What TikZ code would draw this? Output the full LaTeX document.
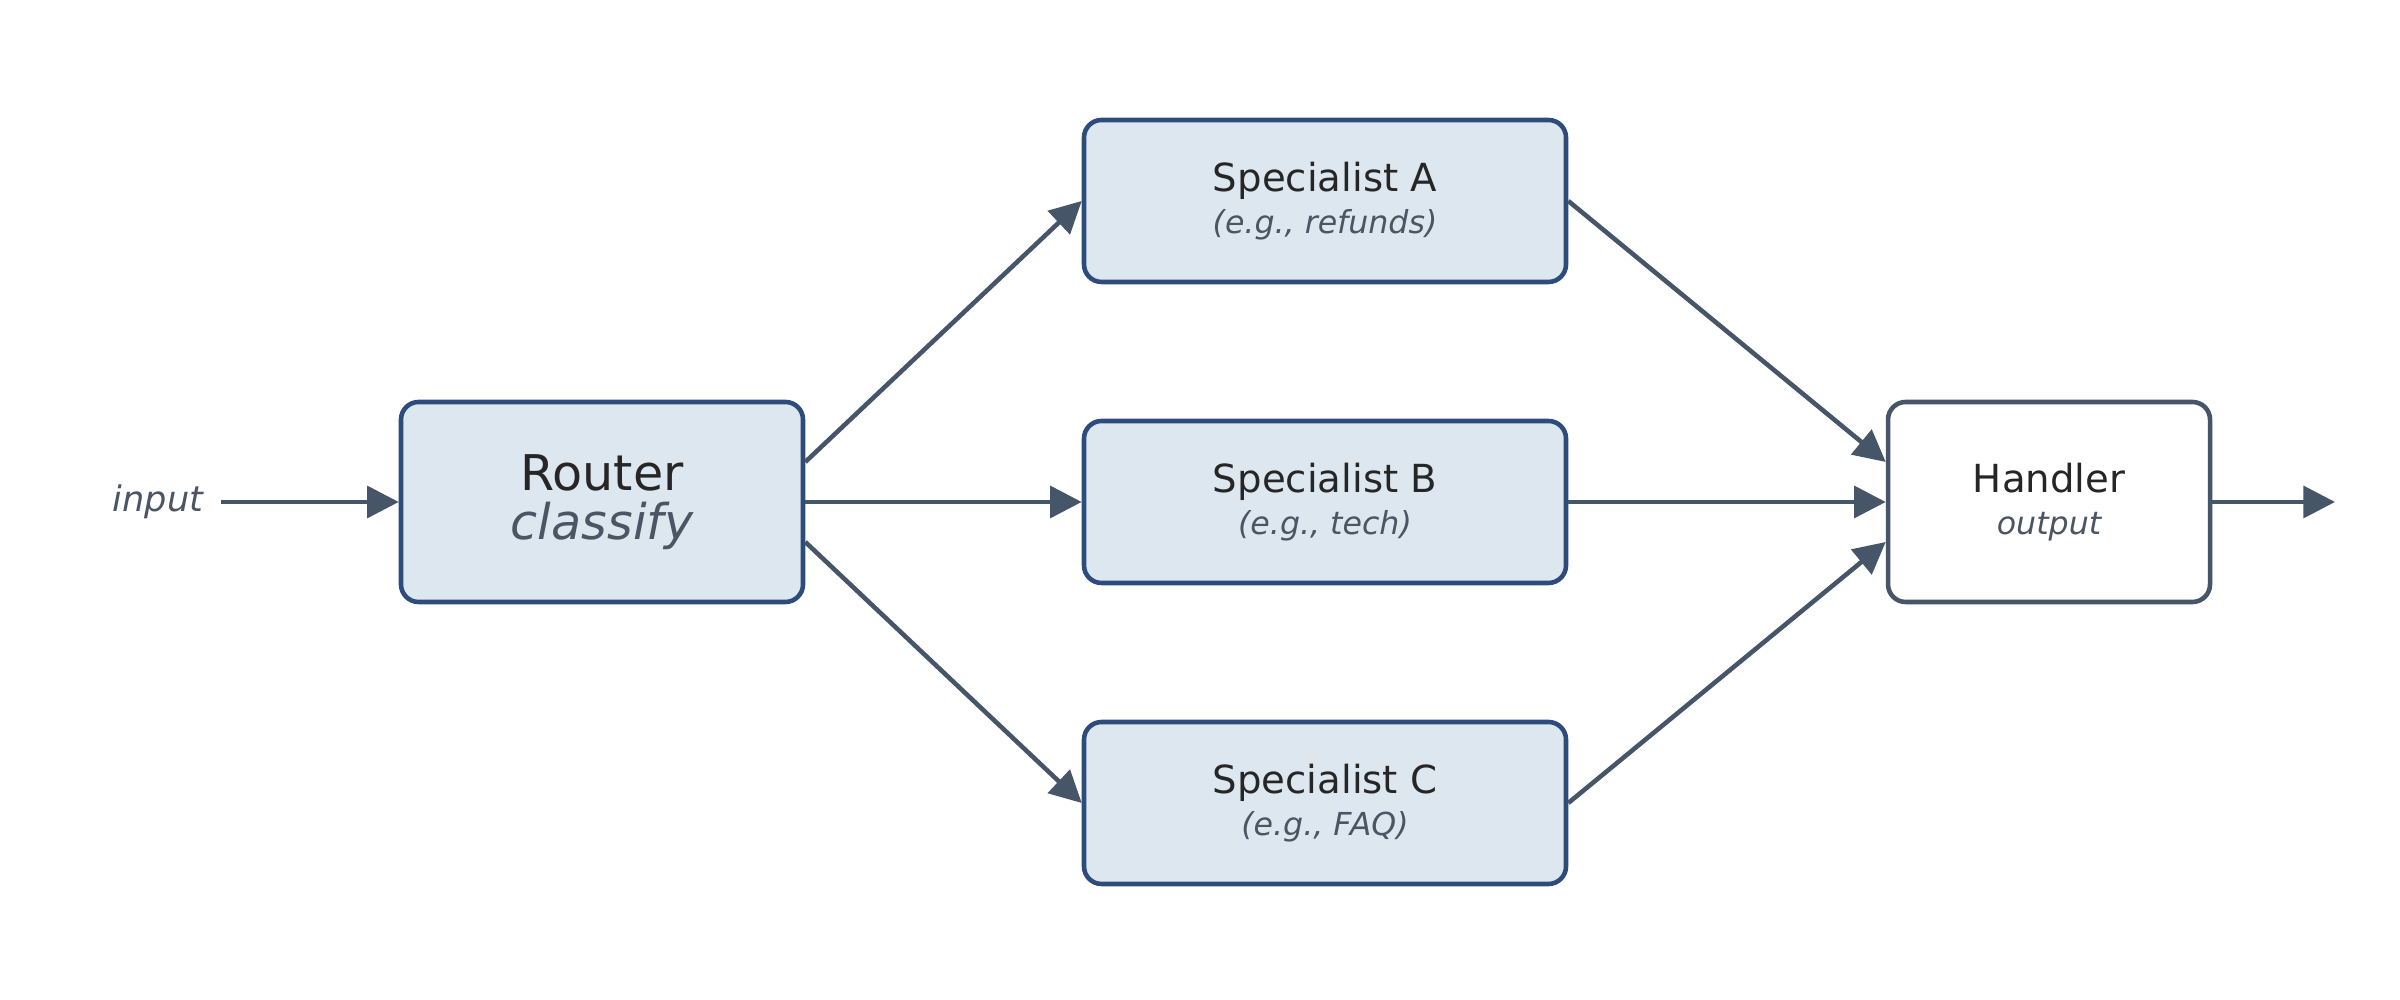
\documentclass[tikz,border=0pt]{standalone}
\usepackage{fontspec}
\setmainfont{DejaVu Sans}
\usetikzlibrary{arrows.meta,positioning,calc}
\definecolor{boxfill}{HTML}{DDE7F0}
\definecolor{boxline}{HTML}{2D4C7C}
\definecolor{wire}{HTML}{475569}
\definecolor{subtxt}{HTML}{4B5563}
\newcommand{\subline}[2][9]{{\color{subtxt}\itshape\fontsize{#1}{#1}\selectfont #2}}
\tikzset{
	box/.style={draw=boxline, fill=boxfill, line width=1.3pt, rounded corners=5pt,
		align=center, text=black!85},
	router/.style={box, minimum width=4.02cm, minimum height=2cm, font=\fontsize{14}{17}\selectfont},
	spec/.style={box, minimum width=4.82cm, minimum height=1.62cm, font=\fontsize{11}{15}\selectfont},
	sink/.style={box, draw=wire, fill=white, minimum width=3.22cm, minimum height=2cm,
		font=\fontsize{11}{15}\selectfont},
	ar/.style={draw=wire, line width=1.3pt, -{Triangle[length=9pt,width=9pt]}, fill=wire}
}
\begin{document}
\begin{tikzpicture}
   \useasboundingbox (0,0) rectangle (24,10);
   \node[router] (rt) at (6.02,4.98) {Router\\[-3pt]\subline[14]{classify}};
   \node[spec] (sa) at (13.25,7.99) {Specialist A\\[-3pt]\subline{(e.g., refunds)}};
   \node[spec] (sb) at (13.25,4.98) {Specialist B\\[-3pt]\subline{(e.g., tech)}};
   \node[spec] (sc) at (13.25,1.97) {Specialist C\\[-3pt]\subline{(e.g., FAQ)}};
   \node[sink] (hd) at (20.49,4.98) {Handler\\[-3pt]\subline{output}};
   \node (in) at (1.58,4.98) {\subline[10]{input}};
   \coordinate (instart) at (2.21,4.98);
   \coordinate (outend) at (23.35,4.98);
   % wires
   \draw[ar] (instart) -- (rt.west);
   \draw[ar] ($(rt.east)+(0,0.4)$) -- (sa.west);
   \draw[ar] (rt.east) -- (sb.west);
   \draw[ar] ($(rt.east)+(0,-0.4)$) -- (sc.west);
   \draw[ar] (sa.east) -- ($(hd.west)+(0,0.4)$);
   \draw[ar] (sb.east) -- (hd.west);
   \draw[ar] (sc.east) -- ($(hd.west)+(0,-0.4)$);
   \draw[ar] (hd.east) -- (outend);
\end{tikzpicture}
\end{document}
